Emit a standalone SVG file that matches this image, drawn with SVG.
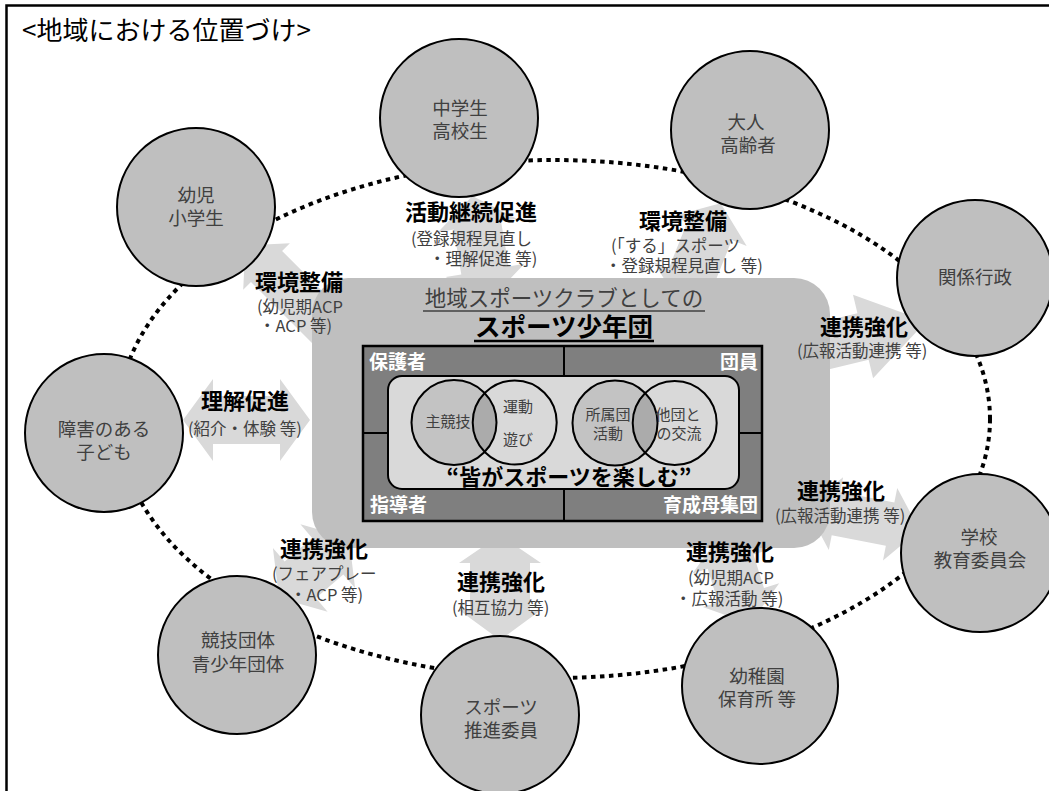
<svg xmlns="http://www.w3.org/2000/svg" width="1049" height="791" viewBox="0 0 1049 791">
<style>
text{font-family:"Noto Sans CJK JP","Noto Sans",sans-serif;}
.node{fill:#bfbfbf;stroke:#000;stroke-width:2;}
.nt{font-size:18.5px;fill:#404040;text-anchor:middle;}
.lb{font-size:22px;font-weight:bold;fill:#000;}
.sb{font-size:16.5px;fill:#404040;}
.arr{fill:#d9d9d9;stroke:none;}
.in{font-size:15px;fill:#404040;text-anchor:middle;}
.role{font-size:19px;font-weight:bold;fill:#fff;}
.ring{fill:none;stroke:#000;stroke-width:2;}
</style>
<defs>
<clipPath id="cp1"><circle cx="454" cy="422.5" r="42.5"/></clipPath>
<clipPath id="cp3"><circle cx="615" cy="423" r="42.5"/></clipPath>
</defs>
<rect x="0" y="0" width="1049" height="791" fill="#fff"/>
<path d="M6.5,791 V5.5 H1049" fill="none" stroke="#000" stroke-width="2.5"/>
<text x="22" y="40" style="font-size:26px;fill:#000;">&lt;地域における位置づけ&gt;</text>

<g id="connectors">
<ellipse cx="554" cy="419" rx="436" ry="259" fill="none" stroke="#000" stroke-width="4" stroke-dasharray="4.5 4.5"/>
<polygon class="arr" transform="translate(376,376) rotate(225)" points="0,0 30,-33 30,-22 154.8,-22 154.8,-33 184.8,0 154.8,33 154.8,22 30,22 30,33"/>
<polygon class="arr" transform="translate(490,300) rotate(-99.6)" points="0,0 30,-40 30,-24 75.6,-24 75.6,-40 105.6,0 75.6,40 75.6,24 30,24 30,40"/>
<polygon class="arr" transform="translate(680,305) rotate(-68.2)" points="0,0 30,-40 30,-24 79.5,-24 79.5,-40 109.5,0 79.5,40 79.5,24 30,24 30,40"/>
<polygon class="arr" transform="translate(780,356.4) rotate(-13.5)" points="0,0 30,-43 30,-24 85.4,-24 85.4,-43 150.4,0 85.4,43 85.4,24 30,24 30,43"/>
<polygon class="arr" points="183,420 213,379 213,396 280,396 280,379 310,420 280,461 280,444 213,444 213,461"/>
<polygon class="arr" transform="translate(806.5,507.8) rotate(11.1)" points="0,0 30,-37 30,-22 85.2,-22 85.2,-37 115.2,0 85.2,37 85.2,22 30,22 30,37"/>
<polygon class="arr" transform="translate(721.7,533) rotate(72.7)" points="0,0 30,-40 30,-24 65,-24 65,-40 95,0 65,40 65,24 30,24 30,40"/>
<polygon class="arr" points="500,535 541,563 530,563 530,610 541,610 500,640 459,610 470,610 470,563 459,563"/>
<polygon class="arr" transform="translate(349,538) rotate(139.4)" points="0,0 28,-42 28,-24 64.2,-24 64.2,-42 92.2,0 64.2,42 64.2,24 28,24 28,42"/>
</g>

<g id="club">
<rect x="312" y="278" width="518" height="270" rx="36" fill="#bfbfbf"/>
<text x="564" y="306" text-anchor="middle" style="font-size:21.5px;fill:#404040;">地域スポーツクラブとしての</text>
<line x1="423" y1="311" x2="705" y2="311" stroke="#404040" stroke-width="1.3"/>
<text x="564" y="336" text-anchor="middle" style="font-size:25.5px;font-weight:bold;fill:#000;">スポーツ少年団</text>
<line x1="474" y1="341" x2="654" y2="341" stroke="#000" stroke-width="2.5"/>
<rect x="363" y="346" width="399" height="175" fill="#7f7f7f" stroke="#000" stroke-width="2.5"/>
<line x1="564" y1="346" x2="564" y2="521" stroke="#000" stroke-width="2"/>
<line x1="363" y1="433" x2="762" y2="433" stroke="#000" stroke-width="2"/>
<text class="role" x="369" y="369">保護者</text>
<text class="role" x="758" y="369" text-anchor="end">団員</text>
<text class="role" x="370" y="512">指導者</text>
<text class="role" x="758" y="512" text-anchor="end">育成母集団</text>
<rect x="388" y="376" width="351" height="113" rx="14" fill="#d9d9d9" stroke="#000" stroke-width="2"/>
<circle cx="454" cy="422.5" r="42.5" fill="#c3c3c3"/>
<circle cx="514.7" cy="422.5" r="42" fill="#ababab" clip-path="url(#cp1)"/>
<circle cx="615" cy="423" r="42.5" fill="#c3c3c3"/>
<circle cx="674.7" cy="423" r="42" fill="#ababab" clip-path="url(#cp3)"/>
<circle class="ring" cx="454" cy="422.5" r="42.5"/>
<circle class="ring" cx="514.7" cy="422.5" r="42"/>
<circle class="ring" cx="615" cy="423" r="42.5"/>
<circle class="ring" cx="674.7" cy="423" r="42"/>
<text class="in" x="448" y="427">主競技</text>
<text class="in" x="518" y="412">運動</text>
<text class="in" x="518" y="445">遊び</text>
<text class="in" x="608" y="420">所属団</text>
<text class="in" x="608" y="439">活動</text>
<text class="in" x="678" y="420">他団と</text>
<text class="in" x="679" y="439">の交流</text>
<text x="569" y="485" text-anchor="middle" style="font-size:22px;font-weight:bold;fill:#000;">“皆がスポーツを楽しむ”</text>
</g>

<g id="n-youji"><circle class="node" cx="196" cy="207" r="79"/><text class="nt" x="196" y="202">幼児</text><text class="nt" x="196" y="225">小学生</text></g>
<g id="n-chugaku"><circle class="node" cx="459" cy="118" r="79"/><text class="nt" x="460" y="115">中学生</text><text class="nt" x="460" y="138">高校生</text></g>
<g id="n-otona"><circle class="node" cx="750" cy="130" r="79"/><text class="nt" x="746" y="129">大人</text><text class="nt" x="748" y="152">高齢者</text></g>
<g id="n-gyosei"><circle class="node" cx="975" cy="278" r="78"/><text class="nt" x="975" y="284">関係行政</text></g>
<g id="n-gakko"><circle class="node" cx="980" cy="553" r="79"/><text class="nt" x="979" y="544">学校</text><text class="nt" x="980" y="567">教育委員会</text></g>
<g id="n-youchien"><circle class="node" cx="760" cy="686" r="78"/><text class="nt" x="757" y="683">幼稚園</text><text class="nt" x="757" y="706">保育所 等</text></g>
<g id="n-suishin"><circle class="node" cx="500" cy="715" r="79"/><text class="nt" x="501" y="714">スポーツ</text><text class="nt" x="501" y="737">推進委員</text></g>
<g id="n-kyogi"><circle class="node" cx="237" cy="655" r="79"/><text class="nt" x="238" y="647">競技団体</text><text class="nt" x="238" y="671">青少年団体</text></g>
<g id="n-shogai"><circle class="node" cx="104" cy="433" r="79"/><text class="nt" x="104" y="436">障害のある</text><text class="nt" x="104" y="459">子ども</text></g>

<g id="labels">
<text class="lb" x="255" y="290">環境整備</text>
<text class="sb" x="257" y="313">(幼児期ACP</text>
<text class="sb" x="259" y="332">・ACP 等)</text>

<text class="lb" x="405" y="220">活動継続促進</text>
<text class="sb" x="411" y="245">(登録規程見直し</text>
<text class="sb" x="429" y="265">・理解促進 等)</text>

<text class="lb" x="639" y="229">環境整備</text>
<text class="sb" x="611" y="252">(「する」スポーツ</text>
<text class="sb" x="605" y="272">・登録規程見直し 等)</text>

<text class="lb" x="820" y="335">連携強化</text>
<text class="sb" x="797" y="357">(広報活動連携 等)</text>

<text class="lb" x="201" y="409">理解促進</text>
<text class="sb" x="188" y="435">(紹介・体験 等)</text>

<text class="lb" x="797" y="499">連携強化</text>
<text class="sb" x="775" y="522">(広報活動連携 等)</text>

<text class="lb" x="686" y="560">連携強化</text>
<text class="sb" x="688" y="584">(幼児期ACP</text>
<text class="sb" x="675" y="605">・広報活動 等)</text>

<text class="lb" x="457" y="590">連携強化</text>
<text class="sb" x="452" y="614">(相互協力 等)</text>

<text class="lb" x="280" y="557">連携強化</text>
<text class="sb" x="272" y="580">(フェアプレー</text>
<text class="sb" x="290" y="601">・ACP 等)</text>
</g>
</svg>
